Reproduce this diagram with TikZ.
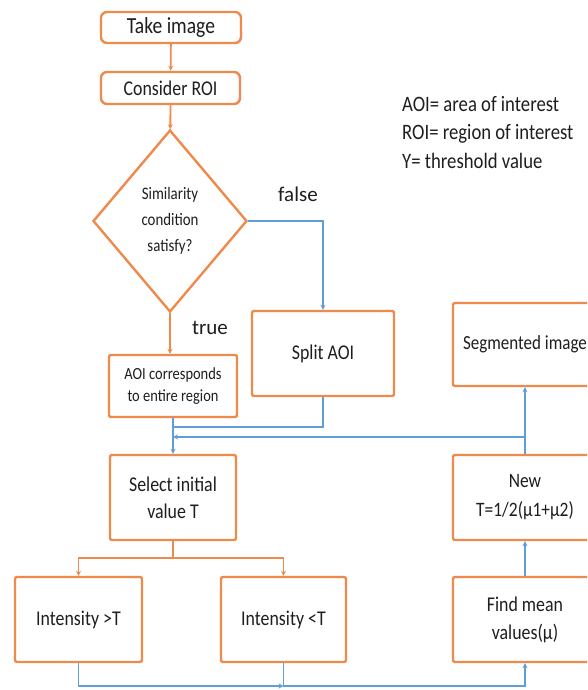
\documentclass[tikz,border=0pt]{standalone}
\usepackage{fontspec}
\setmainfont[FakeStretch=0.85]{Carlito}
\newfontfamily\labelfont{Carlito}
\usetikzlibrary{shapes.geometric,arrows.meta,positioning}
\definecolor{boxorange}{RGB}{238,138,76}
\definecolor{lineblue}{RGB}{96,158,216}
\definecolor{txtgray}{RGB}{30,30,30}

\begin{document}
\begin{tikzpicture}[x=1pt, y=-1pt, every node/.style={text=txtgray},
  box/.style={draw=boxorange, line width=2.4pt, rounded corners=2pt, align=center, inner sep=2pt, fill=white},
  pill/.style={box, rounded corners=6pt},
  flowo/.style={draw=boxorange, line width=1.8pt, -{Stealth[length=5pt,width=5pt]}},
  flowb/.style={draw=lineblue, line width=1.8pt, -{Stealth[length=5pt,width=5pt]}},
  lbl/.style={font=\labelfont\fontsize{21}{21}\selectfont}]
  % page frame
  \clip (0,0) rectangle (587,690);

  % Top of the chart
  \node[pill, minimum width=140pt, minimum height=31pt, font=\fontsize{23}{23}\selectfont] (take) at (171,27.5) {Take image};
  \node[pill, minimum width=139pt, minimum height=32pt, font=\fontsize{21}{21}\selectfont] (roi) at (170.5,88) {Consider ROI};
  \node[diamond, draw=boxorange, line width=2.4pt, inner sep=0pt, minimum width=154pt, minimum height=182pt,
        align=center, font=\fontsize{17.5}{26}\selectfont] (cond) at (170,221) {Similarity\\condition\\satisfy?};
  \node[box, minimum width=128pt, minimum height=62pt, font=\fontsize{17}{22}\selectfont] (aoi) at (173,386) {AOI corresponds\\to entire region};
  \node[box, minimum width=142pt, minimum height=85pt, font=\fontsize{21}{21}\selectfont] (split) at (323,353.5) {Split AOI};
  \node[lbl] (false) at (298,194) {false};
  \node[lbl] (true) at (210,328) {true};

  % Threshold loop
  \node[box, minimum width=126pt, minimum height=85pt, font=\fontsize{21}{27}\selectfont] (select) at (173,497.5) {Select initial\\value T};
  \node[box, minimum width=127pt, minimum height=85pt, font=\fontsize{21}{21}\selectfont] (inthi) at (78.5,619.5) {Intensity >T};
  \node[box, minimum width=125pt, minimum height=85pt, font=\fontsize{21}{21}\selectfont] (intlo) at (283.5,619.5) {Intensity <T};
  \node[box, minimum width=144pt, minimum height=85pt, font=\fontsize{21}{28}\selectfont] (mean) at (525,619.5) {Find mean\\values(μ)};
  \node[box, minimum width=144pt, minimum height=85pt, font=\fontsize{20.5}{29}\selectfont] (newT) at (525,497.5) {New\\T=1/2(μ1+μ2)};
  \node[box, minimum width=144pt, minimum height=83pt, font=\fontsize{20}{20}\selectfont] (seg) at (525,344.5) {Segmented image};

  % Legend
  \node[anchor=north west, align=left, font=\fontsize{22}{28.5}\selectfont, inner sep=0pt] (legend) at (402,96)
    {AOI= area of interest\\ROI= region of interest\\Y= threshold value};

  % Junctions
  \coordinate (m1) at (173,427);
  \coordinate (m2) at (173,437);
  \coordinate (fork) at (173,558);
  \coordinate (low) at (0,686);

  % Connectors
  \draw[flowo] (take) -- (roi);
  \draw[flowo] (roi) -- (cond);
  \draw[flowb] (cond.east) -| (split.north);
  \draw[flowo] (cond.south) -- (cond.south |- aoi.north);
  \draw[flowb] (aoi.south) -- (select.north);
  \draw[flowb, -] (split.south) |- (m1);
  \draw[flowb] (newT.north) -- (seg.south);
  \draw[flowb] (newT.north |- m2) -- (m2);
  \draw[flowo, -] (select.south) -- (fork);
  \draw[flowo] (fork) -| (inthi.north);
  \draw[flowo] (fork) -| (intlo.north);
  \draw[flowb] (inthi.south) |- (intlo.south |- low);
  \draw[flowb] (intlo.south) -- (intlo.south |- low) -| (mean.south);
  \draw[flowb] (mean.north) -- (newT.south);
\end{tikzpicture}
\end{document}
